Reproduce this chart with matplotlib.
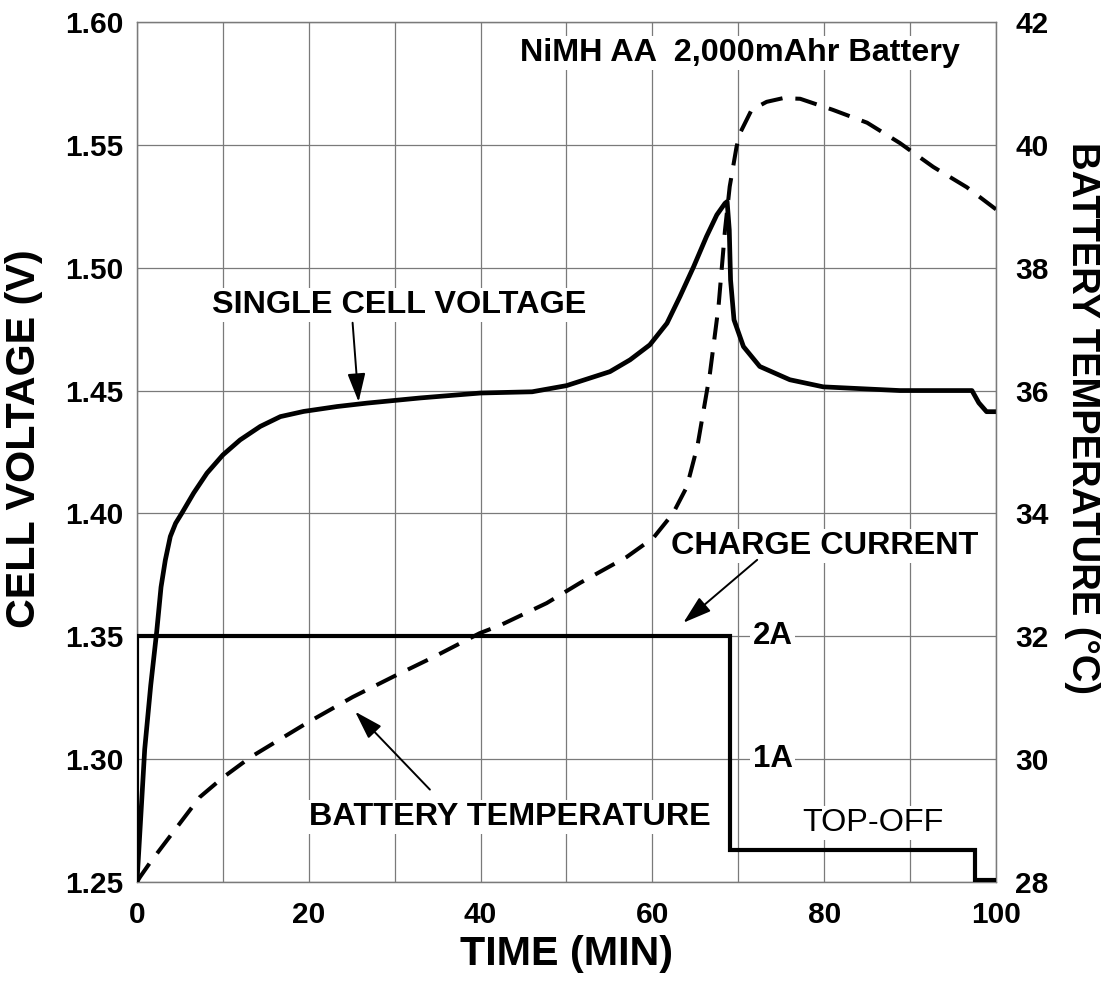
import matplotlib
matplotlib.use("Agg")
import matplotlib.pyplot as plt
from matplotlib.ticker import MultipleLocator

plt.rcParams['font.family'] = ['Liberation Sans', 'DejaVu Sans']

# ---- data ----
v_time = [0, 0.9, 1.6, 2.3, 2.8, 3.3, 3.88, 4.5, 5.24, 6.6, 8.15, 10.0, 12.0, 14.35,
          16.7, 19.4, 23.3, 26.8, 33, 40, 46, 50, 55.06, 57.4, 59.7, 61.7, 63.2,
          64.8, 66.3, 67.5, 68.45, 68.7, 68.95, 69.1, 69.5, 70.6, 72.5, 76.0,
          79.9, 88.8, 97.2, 98.0, 98.9, 100]
v_vals = [1.25, 1.304, 1.33, 1.352, 1.370, 1.381, 1.3906, 1.396, 1.4002, 1.4083,
          1.4164, 1.4238, 1.4299, 1.4354, 1.4394, 1.4415, 1.4435, 1.4449, 1.447,
          1.449, 1.4495, 1.452, 1.4577, 1.4625, 1.4686, 1.4774, 1.4882, 1.5004,
          1.5127, 1.5215, 1.5262, 1.5269, 1.5154, 1.495, 1.4788, 1.4679, 1.4598,
          1.4544, 1.4515, 1.450, 1.450, 1.445, 1.4414, 1.4414]

t_time = [0, 0.35, 1.5, 3.5, 7.3, 10, 13.2, 16.5, 19.8, 25.1, 29.8, 34.5, 39.9, 42.3,
          47.7, 51.6, 57, 60.1, 62.4, 64.0, 65.25, 66.7, 67.7, 68.45, 69.0, 69.8,
          70.2, 71.55, 73.3, 75.2, 77.2, 81.0, 85.0, 88.8, 92.7, 96.6, 100]
t_vals = [28.0, 28.08, 28.31, 28.68, 29.38, 29.7, 30.03, 30.31, 30.59, 31.01, 31.34,
          31.66, 32.05, 32.18, 32.54, 32.87, 33.29, 33.6, 34.0, 34.43, 35.1, 36.28,
          37.37, 38.61, 39.32, 39.97, 40.19, 40.57, 40.70, 40.76, 40.75, 40.57,
          40.36, 40.03, 39.64, 39.31, 38.95]

i_time = [0, 0, 69.0, 69.0, 97.6, 97.6, 100]
i_vals = [0, 2, 2, 0.26, 0.26, 0.02, 0.02]

x_ticks = [0, 20, 40, 60, 80, 100]
v_ticks = [1.25, 1.30, 1.35, 1.40, 1.45, 1.50, 1.55, 1.60]
t_ticks = [28, 30, 32, 34, 36, 38, 40, 42]

fig = plt.figure(figsize=(11.1, 9.86), dpi=100)
ax = fig.add_axes([0.1234, 0.1055, 0.7739, 0.8722])
ax2 = ax.twinx()
ax3 = ax.twinx()

gridc = '#7a7a7a'
ax.set_xlim(0, 100)
ax.set_ylim(1.25, 1.60)
ax2.set_ylim(28, 42)
ax3.set_ylim(0, 7)
ax3.axis('off')

ax.set_xticks(x_ticks)
ax.xaxis.set_minor_locator(MultipleLocator(10))
ax.set_yticks(v_ticks)
ax.set_yticklabels([f"{v:.2f}" for v in v_ticks])
ax2.set_yticks(t_ticks)
ax.grid(True, which='both', color=gridc, lw=0.9)
for a in (ax, ax2):
    for s in a.spines.values():
        s.set_color(gridc)
        s.set_linewidth(0.9)
ax.tick_params(which='both', length=0)
ax.tick_params(axis='x', labelsize=21.5, pad=14)
ax.tick_params(axis='y', labelsize=21.5, pad=10)
ax2.tick_params(length=0, labelsize=21.5, pad=14)
for lab in ax.get_xticklabels() + ax.get_yticklabels() + ax2.get_yticklabels():
    lab.set_fontweight('bold')

ax.set_xlabel('TIME (MIN)', fontsize=29.7, fontweight='bold', labelpad=4)
ax.set_ylabel('CELL VOLTAGE (V)', fontsize=29.7, fontweight='bold',
              va='center', ha='center')
ax.yaxis.set_label_coords(-0.1315, 0.516)
ax2.set_ylabel('BATTERY TEMPERATURE (°C)', fontsize=27.5, fontweight='bold',
               rotation=-90, va='center', ha='center')
ax2.yaxis.set_label_coords(1.100, 0.540)

ax.plot(v_time, v_vals, color='black', lw=3.4, solid_capstyle='butt',
        solid_joinstyle='round', zorder=5)
ax2.plot(t_time, t_vals, color='black', lw=2.9, linestyle=(0, (5.5, 3.2)), zorder=5)
ax3.plot(i_time, i_vals, color='black', lw=3.0, solid_joinstyle='miter', zorder=5)

wb = dict(facecolor='white', edgecolor='none', pad=1.5)
arr = dict(arrowstyle='-|>,head_length=0.7,head_width=0.22', color='black', lw=1.4,
           mutation_scale=25, shrinkA=0, shrinkB=0)
fs = 23.3

ax.text(30.56, 1.4849, 'SINGLE CELL VOLTAGE', fontsize=fs, fontweight='bold',
        ha='center', va='center', bbox=wb, zorder=6)
ax.annotate('', xy=(25.8, 1.4454), xytext=(25.1, 1.4776), arrowprops=arr, zorder=6)

ax.text(80.1, 1.3868, 'CHARGE CURRENT', fontsize=fs, fontweight='bold',
        ha='center', va='center', bbox=wb, zorder=6)
ax.annotate('', xy=(63.6, 1.3555), xytext=(72.2, 1.3811), arrowprops=arr, zorder=6)

ax.text(43.4, 1.2766, 'BATTERY TEMPERATURE', fontsize=fs, fontweight='bold',
        ha='center', va='center', bbox=wb, zorder=6)
ax.annotate('', xy=(25.4, 1.3193), xytext=(34.1, 1.2876), arrowprops=arr, zorder=6)

ax.text(70.2, 1.5874, 'NiMH AA  2,000mAhr Battery', fontsize=fs, fontweight='bold',
        ha='center', va='center', bbox=wb, zorder=6)
ax.text(85.7, 1.2741, 'TOP-OFF', fontsize=fs, ha='center', va='center', bbox=wb, zorder=6)

ax.text(74.0, 1.35, '2A', fontsize=22.5, fontweight='bold', ha='center', va='center',
        bbox=wb, zorder=6)
ax.text(74.0, 1.30, '1A', fontsize=22.5, fontweight='bold', ha='center', va='center',
        bbox=wb, zorder=6)

fig.savefig('out.png', dpi=100)
